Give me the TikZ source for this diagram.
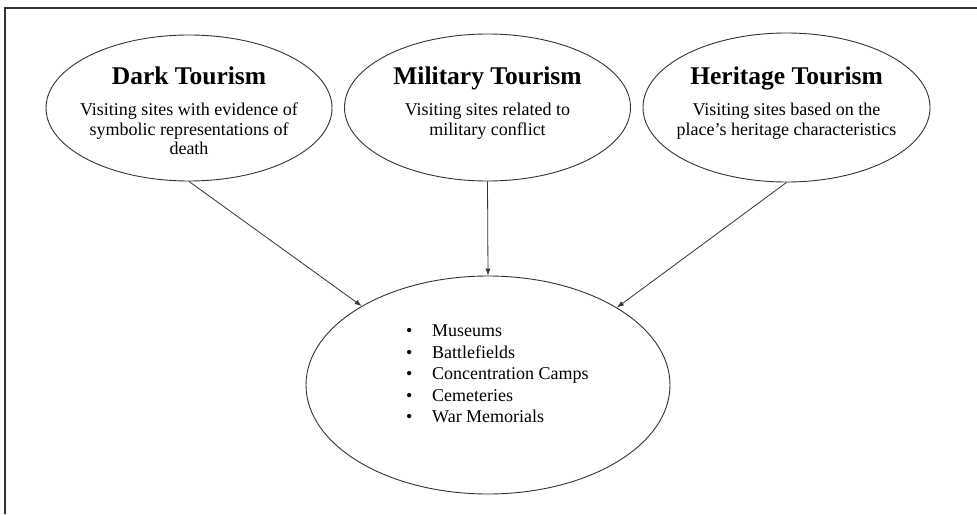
\documentclass[tikz,border=0pt]{standalone}
\usepackage{fontspec}
\setmainfont{Liberation Serif}
\usetikzlibrary{shapes.geometric,arrows.meta}
\tikzset{
  oval/.style={ellipse,draw=black!80,line width=0.9pt,inner sep=0pt},
  ttl/.style={font=\bfseries\fontsize{25.5}{28}\selectfont,inner sep=0pt,anchor=base},
  body/.style={font=\fontsize{18}{19.5}\selectfont,inner sep=0pt,anchor=north,align=center},
  conn/.style={draw=black!80,line width=0.8pt,-{Latex[length=7pt,width=5pt]}}
}
\begin{document}
\begin{tikzpicture}[x=1pt,y=-1pt]
\useasboundingbox (0,0) rectangle (977,514);
\draw[black!80,line width=2pt] (5,514) -- (5,8) -- (977,8);
\node[oval,minimum width=286pt,minimum height=146pt] (dark) at (189,108) {};
\node[oval,minimum width=286pt,minimum height=147pt] (mil) at (487.5,107.5) {};
\node[oval,minimum width=287pt,minimum height=149pt] (her) at (786.5,107.5) {};
\node[oval,minimum width=364pt,minimum height=218pt] (bot) at (488,385) {};
\node[ttl] (darkt) at (189,84) {Dark Tourism};
\node[ttl] (milt) at (487.5,84) {Military Tourism};
\node[ttl] (hert) at (786.5,84) {Heritage Tourism};
\node[body] (darkb) at (189,103) {Visiting sites with evidence of\\symbolic representations of\\death};
\node[body] (milb) at (487.5,103) {Visiting sites related to\\military conflict};
\node[body] (herb) at (786.5,103) {Visiting sites based on the\\place’s heritage characteristics};
\node[font=\fontsize{18}{21.5}\selectfont,inner sep=0pt,anchor=north west,align=left] (list) at (406,325)
 {\makebox[26pt][l]{•}Museums\\\makebox[26pt][l]{•}Battlefields\\\makebox[26pt][l]{•}Concentration Camps\\\makebox[26pt][l]{•}Cemeteries\\\makebox[26pt][l]{•}War Memorials};
\draw[conn] (dark.south) -- (bot.148.8);
\draw[conn] (mil.south) -- (bot.north);
\draw[conn] (her.south) -- (bot.31.2);
\end{tikzpicture}
\end{document}
